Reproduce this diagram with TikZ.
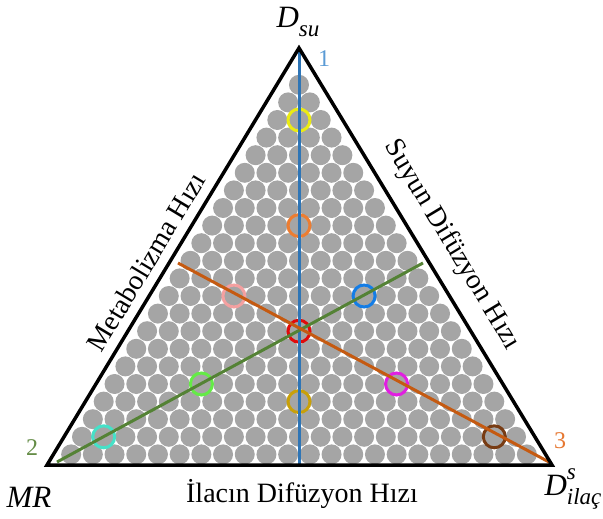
\documentclass[tikz,border=0pt]{standalone}
\usepackage{fontspec}
\setmainfont{Liberation Serif}
\definecolor{ballgray}{RGB}{165,165,165}
\definecolor{axisblue}{RGB}{46,117,182}
\definecolor{axisgreen}{RGB}{84,130,53}
\definecolor{axisorange}{RGB}{197,90,17}
\definecolor{tagblue}{RGB}{91,155,213}
\definecolor{taggreen}{RGB}{100,140,70}
\definecolor{tagorange}{RGB}{230,120,50}
\definecolor{ryellow}{RGB}{235,235,20}
\definecolor{rorange}{RGB}{237,125,49}
\definecolor{rpink}{RGB}{244,160,160}
\definecolor{rblue}{RGB}{20,125,230}
\definecolor{rred}{RGB}{225,10,10}
\definecolor{rgreen}{RGB}{100,235,70}
\definecolor{rmagenta}{RGB}{225,30,225}
\definecolor{rgold}{RGB}{200,160,10}
\definecolor{rcyan}{RGB}{70,225,200}
\definecolor{rbrown}{RGB}{120,60,20}
\newcommand{\lowidx}[1]{\raisebox{-0.3em}{\fontsize{23}{23}\selectfont #1}}
\newcommand{\upidx}[1]{\raisebox{0.5em}{\fontsize{23}{23}\selectfont #1}}
\begin{document}
\begin{tikzpicture}[x=1pt,y=-1pt,
  ball/.style={fill=ballgray},
  ring/.style={draw, circle, line width=3pt, minimum size=22pt, inner sep=0pt},
  median/.style={line width=3pt},
  sidelabel/.style={font=\fontsize{28}{32}\selectfont, inner sep=0pt},
  corner/.style={font=\fontsize{31}{35}\selectfont\itshape, inner sep=0pt},
  tag/.style={font=\fontsize{24}{28}\selectfont, inner sep=0pt}]
\useasboundingbox (0,0) rectangle (603,519);
% corners and ends of the three axes
\coordinate (vTop) at (299,48);
\coordinate (vLeft) at (47,465);
\coordinate (vRight) at (552,465);
\coordinate (mBase) at (299,465);
\coordinate (gStart) at (57,462);
\coordinate (gEnd) at (423,263);
\coordinate (oStart) at (549,462);
\coordinate (oEnd) at (178,263);
% packed grains
\foreach \r in {1,...,22} {
  \foreach \j in {1,...,\r} {
    \fill[ball] ({299+(\j-(\r+1)/2)*21.7},{84.8+(\r-1)*17.6}) circle (10);
  }
}
% marked grains
\node[ring, draw=ryellow] (pYellow) at (299,120) {};
\node[ring, draw=rorange] (pOrange) at (299,225.6) {};
\node[ring, draw=rpink] (pPink) at (233.9,296) {};
\node[ring, draw=rblue] (pBlue) at (364.1,296) {};
\node[ring, draw=rred] (pRed) at (299,331.2) {};
\node[ring, draw=rgreen] (pGreen) at (201.4,384) {};
\node[ring, draw=rmagenta] (pMagenta) at (396.6,384) {};
\node[ring, draw=rgold] (pGold) at (299,401.6) {};
\node[ring, draw=rcyan] (pCyan) at (103.7,436.8) {};
\node[ring, draw=rbrown] (pBrown) at (494.3,436.8) {};
% axes
\draw[median, axisblue] (vTop) -- (mBase);
\draw[median, axisgreen] (gStart) -- (gEnd);
\draw[median, axisorange] (oStart) -- (oEnd);
\draw[line width=3.5pt] (vTop) -- (vLeft) -- (vRight) -- cycle;
% labels
\node[tag, text=tagblue] (n1) at (324,59) {1};
\node[tag, text=taggreen] (n2) at (32,448) {2};
\node[tag, text=tagorange] (n3) at (560,441) {3};
\node[corner] (dsu) at (298,22) {D\lowidx{su}};
\node[corner] (mr) at (29,497) {MR};
\node[corner] (dilac) at (573,489) {D\makebox[0pt][l]{\upidx{s}}\lowidx{ilaç}};
\node[sidelabel, rotate=59] (meta) at (146,262) {Metabolizma Hızı};
\node[sidelabel, rotate=-59] (suyun) at (452,245) {Suyun Difüzyon Hızı};
\node[sidelabel] (ilac) at (302,494) {İlacın Difüzyon Hızı};
\end{tikzpicture}
\end{document}
